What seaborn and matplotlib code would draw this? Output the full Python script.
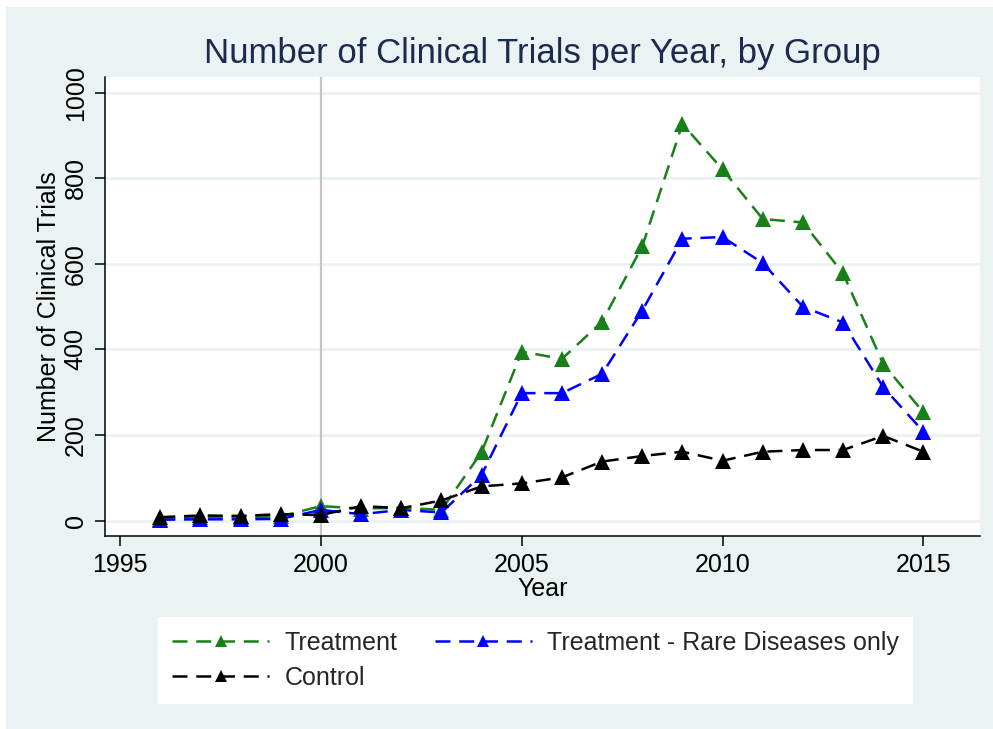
import pandas as pd
import matplotlib
matplotlib.use('Agg')
import matplotlib.pyplot as plt
import seaborn as sns
from matplotlib.lines import Line2D
from matplotlib.patches import Rectangle

# data
years = list(range(1996, 2016))
treatment = [3, 8, 8, 10, 34, 28, 30, 25, 160, 395, 378, 465, 641, 927,
             821, 705, 697, 578, 366, 253]
rare_only = [2, 3, 3, 4, 25, 15, 25, 19, 107, 298, 298, 343, 491, 659,
             663, 602, 500, 463, 312, 208]
control = [8, 12, 11, 15, 13, 34, 29, 47, 80, 87, 101, 138, 151, 161,
           140, 161, 165, 165, 198, 161]
groups = ['Treatment', 'Treatment - Rare Diseases only', 'Control']
colors = ['#188018', '#0000FF', '#000000']
yticks = [0, 200, 400, 600, 800, 1000]
xticks = [1995, 2000, 2005, 2010, 2015]

df = pd.concat([
    pd.DataFrame({'Year': years, 'Trials': vals, 'Group': g})
    for g, vals in zip(groups, [treatment, rare_only, control])
])

sns.set_theme(style='ticks')
plt.rcParams['font.family'] = ['Liberation Sans', 'DejaVu Sans']

bg = '#EAF2F3'
fig = plt.figure(figsize=(9.93, 7.29), dpi=100, facecolor=bg)
# thin white strip on top and left edge
fig.patches.append(Rectangle((0, 0), 6 / 993, 1, transform=fig.transFigure,
                             color='white', lw=0, zorder=-10))
fig.patches.append(Rectangle((0, (729 - 7) / 729), 1, 7 / 729, transform=fig.transFigure,
                             color='white', lw=0, zorder=-10))
ax = fig.add_axes([104.5 / 993, (729 - 536) / 729, (980 - 104.5) / 993, (536 - 77) / 729])
ax.set_facecolor('white')

ax.axvline(2000, color='#C4C4C4', lw=1.6, zorder=1)

dash = (6, 3.5)
sns.lineplot(data=df, x='Year', y='Trials', hue='Group', style='Group',
             hue_order=groups, style_order=groups, palette=colors,
             dashes={g: dash for g in groups}, markers={g: '^' for g in groups},
             markersize=11, markeredgewidth=0, linewidth=1.8,
             legend=False, ax=ax, zorder=3)

ax.set_xlim(1994.61, 2016.41)
ax.set_ylim(-36, 1037)
ax.set_xticks(xticks)
ax.set_yticks(yticks)
ax.yaxis.grid(True, color=bg, lw=2)
ax.set_axisbelow(True)
for s in ['top', 'right']:
    ax.spines[s].set_visible(False)
for s in ['left', 'bottom']:
    ax.spines[s].set_linewidth(1.1)
    ax.spines[s].set_color('black')

ax.tick_params(axis='both', length=7, width=1.1, color='black', labelsize=18,
               labelcolor='black')
ax.tick_params(axis='x', pad=5)
ax.tick_params(axis='y', pad=5, labelrotation=90)
for lab in ax.get_yticklabels():
    lab.set_va('center')

ax.set_xlabel('Year', fontsize=18, color='black', labelpad=0)
ax.set_ylabel('Number of Clinical Trials', fontsize=18, color='black', labelpad=2)
ax.set_title('Number of Clinical Trials per Year, by Group', fontsize=25,
             color='#1C2A4E', pad=10)

# legend is filled column-wise, so order gives rows: Treatment | Rare, Control
handles = [Line2D([], [], color=c, ls=(0, dash), lw=1.8, marker='^',
                  markersize=8, markeredgewidth=0) for c in colors]
order = [0, 2, 1]
leg = fig.legend([handles[i] for i in order], [groups[i] for i in order],
                 loc='upper left', ncol=2,
                 bbox_to_anchor=(158 / 993, (729 - 617) / 729),
                 frameon=True, fancybox=False, framealpha=1, fontsize=18,
                 handlelength=3.9, handletextpad=0.6, columnspacing=1.5,
                 labelspacing=0.45, borderpad=0.55, borderaxespad=0)
leg.get_frame().set_facecolor('white')
leg.get_frame().set_edgecolor('white')
leg.get_frame().set_linewidth(0)

fig.savefig('out.png', dpi=100, facecolor=fig.get_facecolor())
